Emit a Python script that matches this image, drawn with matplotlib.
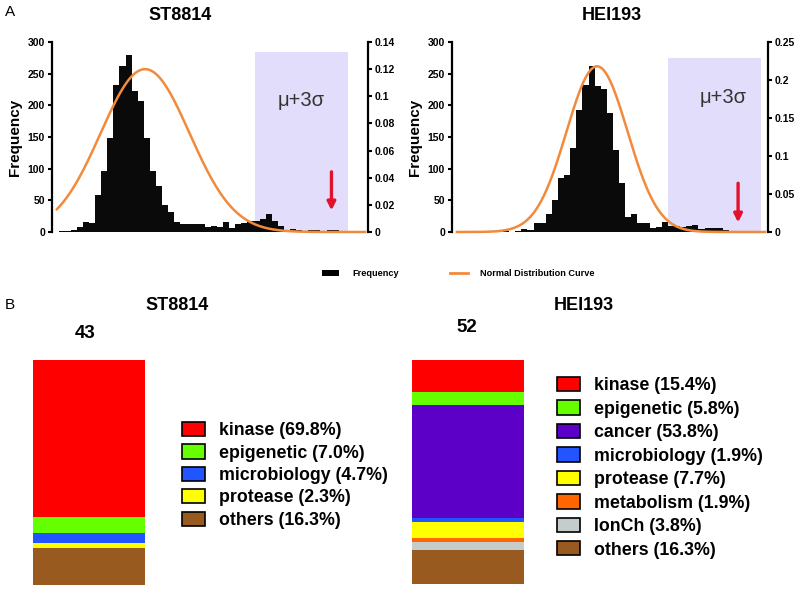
import numpy as np
import matplotlib
matplotlib.use("Agg")
import matplotlib.pyplot as plt
from matplotlib.patches import Patch
from matplotlib.lines import Line2D
from matplotlib.ticker import FuncFormatter

plt.rcParams['font.family'] = ['Liberation Sans', 'DejaVu Sans']

W, H = 800, 590

# ---- panel A: frequency per bin ----
st_counts = [1, 2, 3, 8, 16, 14, 58, 97, 148, 232, 262, 280, 222, 207, 148, 96,
             73, 43, 31, 16, 12, 12, 13, 13, 8, 9, 8, 16, 7, 12, 14, 18, 18, 20,
             28, 17, 10, 2, 5, 3, 1, 3, 3, 0, 3, 3, 2]
hei_counts = [2, 0, 1, 4, 3, 14, 15, 29, 50, 85, 90, 132, 193, 232, 262, 230,
              225, 188, 130, 78, 24, 28, 14, 15, 7, 8, 16, 10, 9, 8, 9, 11, 4,
              7, 7, 6, 3, 0, 0, 2]

# normal distribution curves (mean and sd in bin units, peak density)
st_mu, st_sigma, st_peak = 14.2, 7.3, 0.12
hei_mu, hei_sigma, hei_peak = 15.4, 5.0, 0.218

freq_ticks = [0, 50, 100, 150, 200, 250, 300]
st_density_ticks = [0, 0.02, 0.04, 0.06, 0.08, 0.1, 0.12, 0.14]
hei_density_ticks = [0, 0.05, 0.1, 0.15, 0.2, 0.25]

# ---- panel B: target classes ----
st_total = 43
st_cats = ['kinase', 'epigenetic', 'microbiology', 'protease', 'others']
st_pct = [69.8, 7.0, 4.7, 2.3, 16.3]
hei_total = 52
hei_cats = ['kinase', 'epigenetic', 'cancer', 'microbiology', 'protease',
            'metabolism', 'IonCh', 'others']
hei_pct = [15.4, 5.8, 53.8, 1.9, 7.7, 1.9, 3.8, 16.3]

colors = {'kinase': '#ff0000', 'epigenetic': '#66ff00', 'cancer': '#5c00c8',
          'microbiology': '#2255ff', 'protease': '#ffff00',
          'metabolism': '#ff6600', 'IonCh': '#c4cccc', 'others': '#985a1e'}

bar_color = '#0a0a0a'
curve_color = '#f28a3c'
span_color = '#e2ddfa'
arrow_color = '#e2122c'


def fx(x):
    return x / W


def fy(y):
    return 1 - y / H


fig = plt.figure(figsize=(W / 100, H / 100), dpi=100, facecolor='white')


def histogram(left, right, counts, xlim, mu, sigma, peak, dticks, span,
              span_top, text_pos, arrow_x, arrow_y, title, title_x):
    ax = fig.add_axes([fx(left), fy(232), fx(right - left), fy(42) - fy(232)])
    ax.bar(np.arange(len(counts)), counts, width=1, align='edge',
           color=bar_color, linewidth=0, zorder=2)
    ax.axvspan(span[0], span[1], ymin=0, ymax=span_top / 300,
               color=span_color, linewidth=0, zorder=0)
    ax.text(text_pos[0], text_pos[1], '\u03bc+3\u03c3', fontsize=14.5,
            color='#333333', ha='center', va='center', zorder=3)
    ax.annotate('', xy=(arrow_x, arrow_y[1]), xytext=(arrow_x, arrow_y[0]),
                arrowprops=dict(arrowstyle='-|>', color=arrow_color, lw=2.4,
                                mutation_scale=12, shrinkA=0, shrinkB=0),
                zorder=3)
    ax.set_xlim(*xlim)
    ax.set_ylim(0, 300)
    ax.set_yticks(freq_ticks)
    ax.set_xticks([])
    ax.set_ylabel('Frequency', fontsize=11, fontweight='bold', labelpad=4)
    fig.text(fx(title_x), fy(15), title, fontsize=13, fontweight='bold',
             ha='center', va='center')
    for s in ['top', 'right', 'bottom']:
        ax.spines[s].set_visible(False)
    ax.spines['left'].set_linewidth(1.6)
    ax.tick_params(axis='y', length=3, width=1.5, labelsize=7.5, pad=2)
    for t in ax.get_yticklabels():
        t.set_fontweight('bold')

    ax2 = ax.twinx()
    xs = np.linspace(xlim[0] + 0.8, xlim[1] - 0.5, 300)
    ax2.plot(xs, peak * np.exp(-(xs - mu) ** 2 / (2 * sigma ** 2)),
             color=curve_color, lw=1.8, clip_on=False)
    ax2.set_ylim(0, dticks[-1])
    ax2.set_yticks(dticks)
    ax2.yaxis.set_major_formatter(FuncFormatter(lambda v, p: '%g' % v))
    for s in ['top', 'left', 'bottom']:
        ax2.spines[s].set_visible(False)
    ax2.spines['right'].set_linewidth(1.6)
    ax2.tick_params(axis='y', length=3, width=1.5, labelsize=7.5, pad=2)
    for t in ax2.get_yticklabels():
        t.set_fontweight('bold')
    return ax


histogram(52, 368, st_counts, (-1.08, 50.8), st_mu, st_sigma, st_peak,
          st_density_ticks, (32.2, 47.5), 284, (39.9, 208), 44.8, (95, 34),
          'ST8814', 180)
histogram(452, 768, hei_counts, (-8.36, 43.4), hei_mu, hei_sigma, hei_peak,
          hei_density_ticks, (27.1, 42.3), 274, (36.0, 213), 38.5, (77, 15),
          'HEI193', 611.7)

handles = [Patch(facecolor='black', edgecolor='none'),
           Line2D([0], [0], color=curve_color, lw=2)]
fig.legend(handles, ['Frequency', 'Normal Distribution Curve'],
           loc='center left', bbox_to_anchor=(fx(322), fy(274)), ncol=2,
           frameon=False, prop={'size': 6.6, 'weight': 'bold'},
           handlelength=1.9, handleheight=0.55, handletextpad=1.4,
           columnspacing=5.6, borderpad=0, borderaxespad=0)

fig.text(fx(5), fy(12), 'A', fontsize=11, va='center')
fig.text(fx(5), fy(305), 'B', fontsize=11, va='center')


def stacked(left, bottom, top, cats, pct, total, title, title_x, total_x,
            total_y, leg_x, leg_y, spacing):
    ax = fig.add_axes([fx(left), fy(bottom), fx(111.7), fy(top) - fy(bottom)])
    base = 0
    for c, p in zip(cats[::-1], pct[::-1]):
        ax.bar(0, p, bottom=base, width=1, color=colors[c], linewidth=0)
        base += p
    ax.set_xlim(-0.5, 0.5)
    ax.set_ylim(0, base)
    ax.axis('off')
    fig.text(fx(title_x), fy(305), title, fontsize=13, fontweight='bold',
             ha='center', va='center')
    fig.text(fx(total_x), fy(total_y), str(total), fontsize=13.5,
             fontweight='bold', ha='center', va='center')
    handles = [Patch(facecolor=colors[c], edgecolor='black', linewidth=1.2)
               for c in cats]
    labels = ['%s (%.1f%%)' % (c, p) for c, p in zip(cats, pct)]
    ax.legend(handles, labels, loc='upper left',
              bbox_to_anchor=(fx(leg_x), fy(leg_y)),
              bbox_transform=fig.transFigure, frameon=False,
              prop={'size': 12.8, 'weight': 'bold'}, handlelength=1.3,
              handleheight=0.85, handletextpad=0.8, labelspacing=spacing,
              borderpad=0, borderaxespad=0)


stacked(33.3, 585, 360, st_cats, st_pct, st_total, 'ST8814', 176.7, 85, 333,
        181.7, 422, 0.29)
stacked(412.3, 584, 360, hei_cats, hei_pct, hei_total, 'HEI193', 584, 466.7,
        327, 556.7, 377, 0.35)

fig.savefig('out.png', dpi=100, facecolor='white')
